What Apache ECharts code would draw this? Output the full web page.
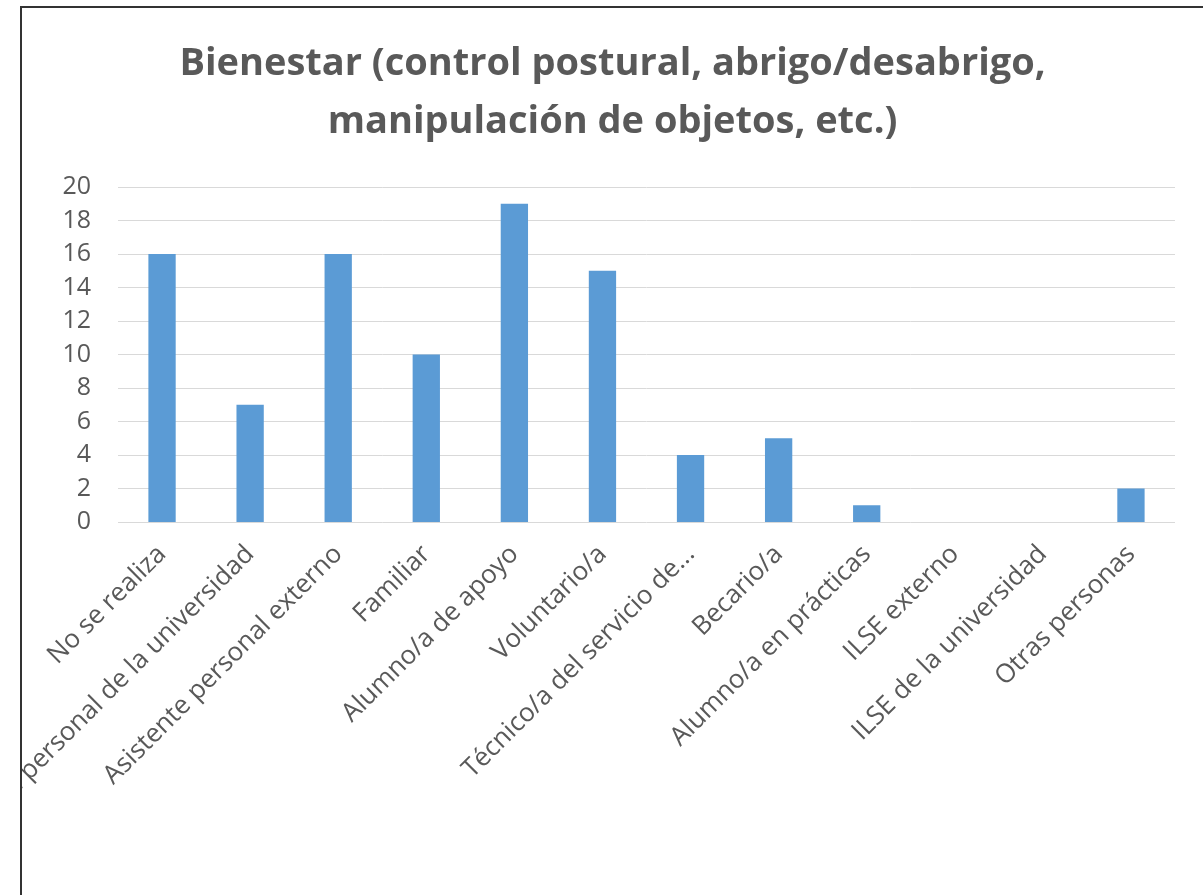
<!DOCTYPE html>
<html lang="es">
<head>
    <meta charset="UTF-8">
    <title>Bienestar</title>
    <style>
        html, body{
            margin: 0;
            padding: 0;
            width: 1203px;
            height: 895px;
            overflow: hidden;
            background: #fff;
        }
        .frame{
            position: absolute;
            left: 20px;
            top: 6px;
            width: 1183px;
            height: 889px;
            border-left: 2px solid #333;
            border-top: 2px solid #333;
            box-sizing: border-box;
            background: #fff;
        }
        #main{
            position: absolute;
            left: 22px;
            top: 8px;
            width: 1181px;
            height: 887px;
        }
    </style>
</head>
<body>
   <div class="frame"></div>
   <div id="main"></div>
    <script src="https://cdn.jsdelivr.net/npm/echarts@6/dist/echarts.min.js"></script>
    <script>
    var titulo = 'Bienestar (control postural, abrigo/desabrigo,\nmanipulación de objetos, etc.)';
    var categorias = ['No se realiza', 'Asistente personal de la universidad', 'Asistente personal externo',
        'Familiar', 'Alumno/a de apoyo', 'Voluntario/a', 'Técnico/a del servicio de...',
        'Becario/a', 'Alumno/a en prácticas', 'ILSE externo', 'ILSE de la universidad', 'Otras personas'];
    var valores = [16, 7, 16, 10, 19, 15, 4, 5, 1, 0, 0, 2];
    var ejeMin = 0, ejeMax = 20, ejeIntervalo = 2;

    var myChart = echarts.init(document.getElementById('main'));
    var option = {
        animation: false,
        title: {
            text: titulo,
            left: 'center',
            top: 27,
            padding: [0, 0, 0, 14],
            textStyle: {
                fontFamily: 'Open Sans',
                fontSize: 38,
                fontWeight: 'bold',
                color: '#595959',
                lineHeight: 58
            }
        },
        grid: {
            left: 96,
            right: 28,
            top: 179,
            bottom: 373,
            containLabel: false,
            outerBoundsMode: 'none'
        },
        xAxis: {
            type: 'category',
            data: categorias,
            axisLine: { show: false },
            axisTick: { show: false },
            axisLabel: {
                interval: 0,
                rotate: 45,
                margin: 28,
                fontFamily: 'Open Sans',
                fontSize: 26,
                color: '#595959'
            }
        },
        yAxis: {
            type: 'value',
            min: ejeMin,
            max: ejeMax,
            interval: ejeIntervalo,
            axisLine: { show: false },
            axisTick: { show: false },
            splitLine: { lineStyle: { color: '#d9d9d9', width: 1 } },
            axisLabel: {
                margin: 27,
                fontFamily: 'Open Sans',
                fontSize: 25,
                color: '#595959'
            }
        },
        series: [{
            type: 'bar',
            data: valores,
            barWidth: '31%',
            itemStyle: { color: '#5b9bd5' }
        }]
    };
    myChart.setOption(option);
    </script>
</body>
</html>
